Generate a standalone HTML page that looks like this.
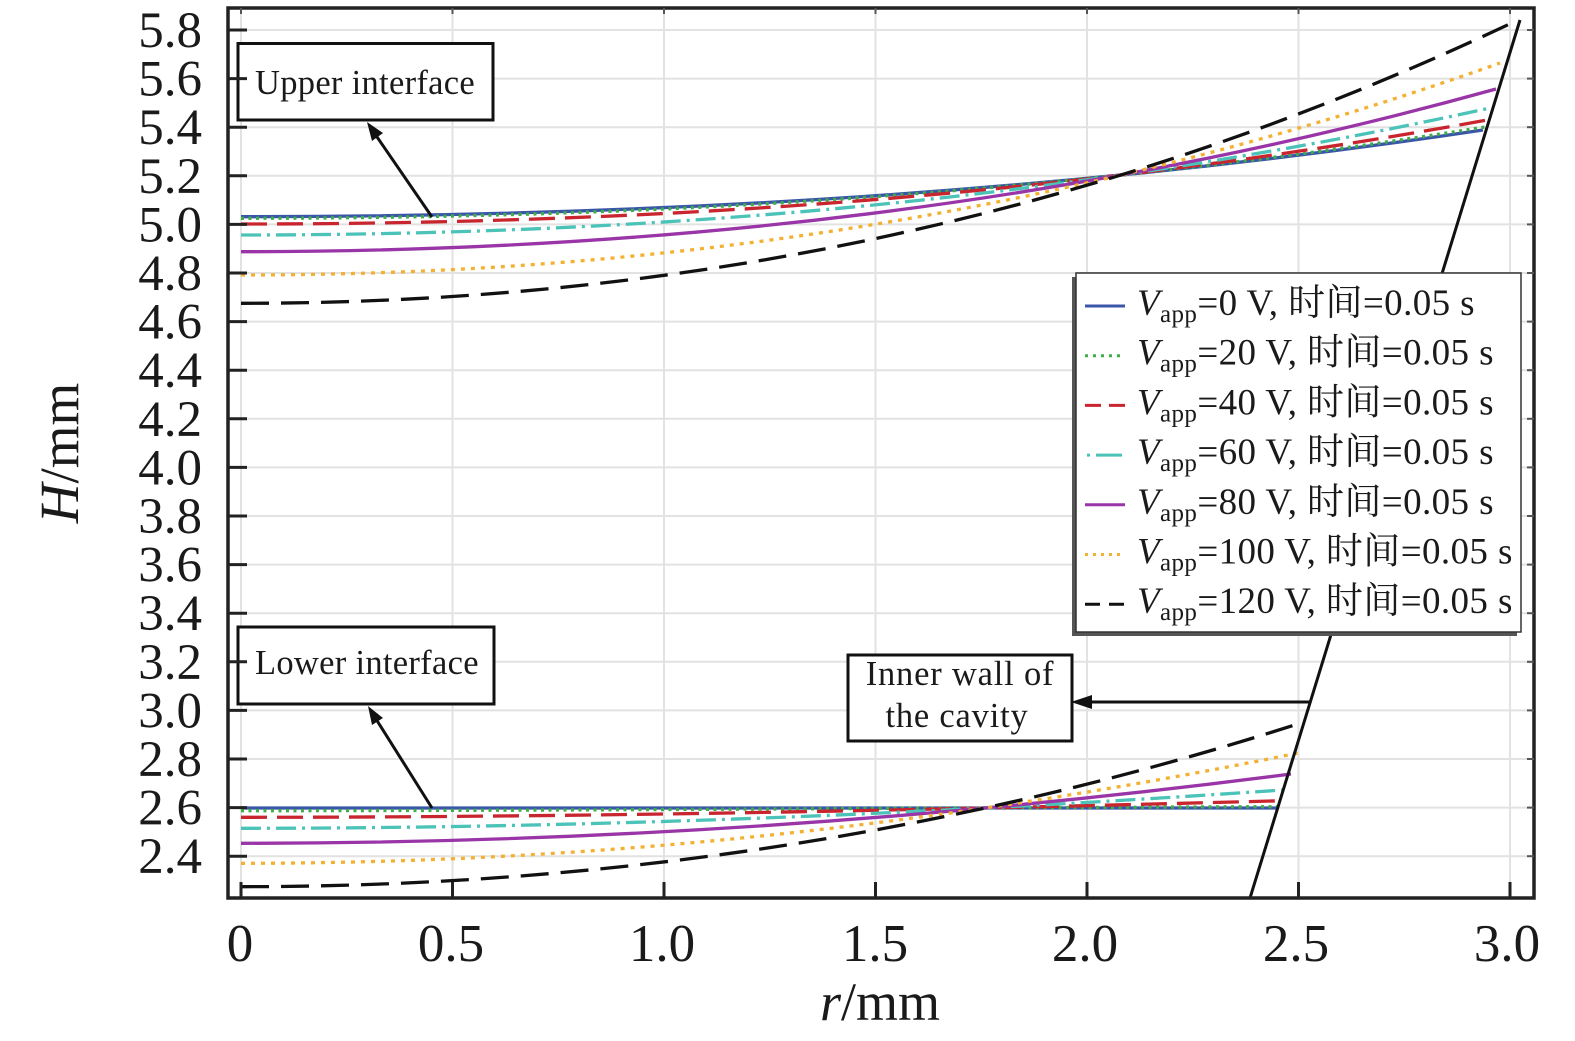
<!DOCTYPE html>
<html><head><meta charset="utf-8">
<style>
html,body{margin:0;padding:0;background:#fff;}
svg{display:block;font-family:"Liberation Serif","Noto Serif CJK SC",serif;}
</style></head>
<body>
<svg width="1575" height="1041" viewBox="0 0 1575 1041" xmlns="http://www.w3.org/2000/svg">
<rect width="1575" height="1041" fill="#fff"/>
<!-- grid -->
<g stroke="#e2e2e2" stroke-width="2">
<line x1="241" y1="8" x2="241" y2="898"/>
<line x1="452.5" y1="8" x2="452.5" y2="898"/>
<line x1="664" y1="8" x2="664" y2="898"/>
<line x1="875.5" y1="8" x2="875.5" y2="898"/>
<line x1="1087" y1="8" x2="1087" y2="898"/>
<line x1="1298.5" y1="8" x2="1298.5" y2="898"/>
<line x1="1510" y1="8" x2="1510" y2="898"/>
<line x1="228" y1="30" x2="1534" y2="30"/>
<line x1="228" y1="78.6" x2="1534" y2="78.6"/>
<line x1="228" y1="127.2" x2="1534" y2="127.2"/>
<line x1="228" y1="175.8" x2="1534" y2="175.8"/>
<line x1="228" y1="224.4" x2="1534" y2="224.4"/>
<line x1="228" y1="273" x2="1534" y2="273"/>
<line x1="228" y1="321.6" x2="1534" y2="321.6"/>
<line x1="228" y1="370.2" x2="1534" y2="370.2"/>
<line x1="228" y1="418.8" x2="1534" y2="418.8"/>
<line x1="228" y1="467.4" x2="1534" y2="467.4"/>
<line x1="228" y1="516" x2="1534" y2="516"/>
<line x1="228" y1="564.6" x2="1534" y2="564.6"/>
<line x1="228" y1="613.2" x2="1534" y2="613.2"/>
<line x1="228" y1="661.8" x2="1534" y2="661.8"/>
<line x1="228" y1="710.4" x2="1534" y2="710.4"/>
<line x1="228" y1="759" x2="1534" y2="759"/>
<line x1="228" y1="807.6" x2="1534" y2="807.6"/>
<line x1="228" y1="856.2" x2="1534" y2="856.2"/>
</g>

<!-- upper curves -->
<g fill="none" stroke-width="3.3">
<path d="M241,216.7 C655,216.7 1069,192 1483,130" stroke="#3a56a8"/>
<path d="M241,218.3 C656,218.3 1070,193.3 1485,127" stroke="#3fae49" stroke-dasharray="3 4.5"/>
<path d="M241,224 C656,224 1072,195.9 1487,120" stroke="#c9252f" stroke-dasharray="26 10"/>
<path d="M241,235 C657,235 1074,199.5 1490,108" stroke="#4cc3b8" stroke-dasharray="20 6 3 6"/>
<path d="M241,251.7 C659,251.7 1078,204.9 1496,89" stroke="#9a35a8"/>
<path d="M241,275 C661,275 1080,212.4 1500,63" stroke="#f2b132" stroke-dasharray="4 6"/>
<path d="M241,303.3 C667,303.3 1092,222.9 1518,20" stroke="#111" stroke-dasharray="28 12"/>
</g>
<!-- lower curves -->
<g fill="none" stroke-width="3.3">
<path d="M241,808 L1278,808" stroke="#3a56a8"/>
<path d="M241,810.7 C587,810.7 934,807.7 1280,806.7" stroke="#3fae49" stroke-dasharray="3 4.5"/>
<path d="M241,817.3 C588,817.3 936,809.8 1283,800.7" stroke="#c9252f" stroke-dasharray="26 10"/>
<path d="M241,828.3 C588,828.3 936,813.7 1283,790" stroke="#4cc3b8" stroke-dasharray="20 6 3 6"/>
<path d="M241,843.3 C591,843.3 941,819.1 1291,774" stroke="#9a35a8"/>
<path d="M241,863.3 C593,863.3 946,825 1298,753" stroke="#f2b132" stroke-dasharray="4 6"/>
<path d="M241,886.7 C595,886.7 950,836.3 1304,722" stroke="#111" stroke-dasharray="28 12"/>
</g>

<!-- slanted wall line -->
<line x1="1520" y1="20" x2="1250" y2="898" stroke="#111" stroke-width="3"/>

<!-- legend -->
<rect x="1072" y="277" width="445" height="359" fill="#555"/>
<rect x="1076" y="273" width="445" height="359" fill="#fff" stroke="#333" stroke-width="1.5"/>
<g stroke-width="3" fill="none">
<line x1="1085" y1="306" x2="1125" y2="306" stroke="#3a56a8"/>
<line x1="1085" y1="355.7" x2="1125" y2="355.7" stroke="#3fae49" stroke-dasharray="3 5"/>
<line x1="1085" y1="405.4" x2="1125" y2="405.4" stroke="#c9252f" stroke-dasharray="16 8"/>
<line x1="1087" y1="455.1" x2="1125" y2="455.1" stroke="#4cc3b8" stroke-dasharray="3 6 26 6"/>
<line x1="1085" y1="504.8" x2="1125" y2="504.8" stroke="#9a35a8"/>
<line x1="1085" y1="554.5" x2="1125" y2="554.5" stroke="#f2b132" stroke-dasharray="3 5"/>
<line x1="1085" y1="604.2" x2="1125" y2="604.2" stroke="#111" stroke-dasharray="15 9"/>
</g>
<g font-size="37" fill="#1a1a1a" letter-spacing="0.4">
<text x="1137" y="315"><tspan font-style="italic">V</tspan><tspan font-size="25" dy="7">app</tspan><tspan dy="-7">=0 V, 时间=0.05 s</tspan></text>
<text x="1137" y="364.7"><tspan font-style="italic">V</tspan><tspan font-size="25" dy="7">app</tspan><tspan dy="-7">=20 V, 时间=0.05 s</tspan></text>
<text x="1137" y="414.4"><tspan font-style="italic">V</tspan><tspan font-size="25" dy="7">app</tspan><tspan dy="-7">=40 V, 时间=0.05 s</tspan></text>
<text x="1137" y="464.1"><tspan font-style="italic">V</tspan><tspan font-size="25" dy="7">app</tspan><tspan dy="-7">=60 V, 时间=0.05 s</tspan></text>
<text x="1137" y="513.8"><tspan font-style="italic">V</tspan><tspan font-size="25" dy="7">app</tspan><tspan dy="-7">=80 V, 时间=0.05 s</tspan></text>
<text x="1137" y="563.5"><tspan font-style="italic">V</tspan><tspan font-size="25" dy="7">app</tspan><tspan dy="-7">=100 V, 时间=0.05 s</tspan></text>
<text x="1137" y="613.2"><tspan font-style="italic">V</tspan><tspan font-size="25" dy="7">app</tspan><tspan dy="-7">=120 V, 时间=0.05 s</tspan></text>
</g>

<!-- annotation boxes -->
<g stroke="#111" stroke-width="3" fill="#fff">
<rect x="238" y="43.5" width="255" height="76.5"/>
<rect x="238" y="627" width="256" height="77"/>
<rect x="848" y="655" width="224" height="86"/>
</g>
<g font-size="34.5" fill="#1a1a1a" letter-spacing="0.3">
<text x="255" y="94">Upper interface</text>
<text x="255" y="674">Lower interface</text>
<text x="960" y="685" text-anchor="middle" letter-spacing="0.8">Inner wall of</text>
<text x="957" y="727" text-anchor="middle" letter-spacing="0.8">the cavity</text>
</g>
<!-- arrows -->
<g stroke="#111" stroke-width="3">
<line x1="432" y1="217" x2="375" y2="134"/>
<line x1="432" y1="808" x2="376" y2="719"/>
<line x1="1310" y1="702" x2="1088" y2="702"/>
</g>
<g fill="#111">
<polygon points="367,122 383,133 372,141"/>
<polygon points="368,706 383,718 372,725"/>
<polygon points="1071,702 1092,695 1092,709"/>
</g>

<!-- frame -->
<rect x="228" y="8" width="1306" height="890" fill="none" stroke="#222" stroke-width="3.5"/>
<!-- ticks -->
<g stroke="#222" stroke-width="3">
<line x1="228" y1="30" x2="247" y2="30"/>
<line x1="228" y1="78.6" x2="247" y2="78.6"/>
<line x1="228" y1="127.2" x2="247" y2="127.2"/>
<line x1="228" y1="175.8" x2="247" y2="175.8"/>
<line x1="228" y1="224.4" x2="247" y2="224.4"/>
<line x1="228" y1="273" x2="247" y2="273"/>
<line x1="228" y1="321.6" x2="247" y2="321.6"/>
<line x1="228" y1="370.2" x2="247" y2="370.2"/>
<line x1="228" y1="418.8" x2="247" y2="418.8"/>
<line x1="228" y1="467.4" x2="247" y2="467.4"/>
<line x1="228" y1="516" x2="247" y2="516"/>
<line x1="228" y1="564.6" x2="247" y2="564.6"/>
<line x1="228" y1="613.2" x2="247" y2="613.2"/>
<line x1="228" y1="661.8" x2="247" y2="661.8"/>
<line x1="228" y1="710.4" x2="247" y2="710.4"/>
<line x1="228" y1="759" x2="247" y2="759"/>
<line x1="228" y1="807.6" x2="247" y2="807.6"/>
<line x1="228" y1="856.2" x2="247" y2="856.2"/>
<line x1="241" y1="898" x2="241" y2="882"/>
<line x1="452.5" y1="898" x2="452.5" y2="882"/>
<line x1="664" y1="898" x2="664" y2="882"/>
<line x1="875.5" y1="898" x2="875.5" y2="882"/>
<line x1="1087" y1="898" x2="1087" y2="882"/>
<line x1="1298.5" y1="898" x2="1298.5" y2="882"/>
<line x1="1510" y1="898" x2="1510" y2="882"/>
</g>
<g stroke="#555" stroke-width="2">
<line x1="241" y1="8" x2="241" y2="14"/>
<line x1="452.5" y1="8" x2="452.5" y2="14"/>
<line x1="664" y1="8" x2="664" y2="14"/>
<line x1="875.5" y1="8" x2="875.5" y2="14"/>
<line x1="1087" y1="8" x2="1087" y2="14"/>
<line x1="1298.5" y1="8" x2="1298.5" y2="14"/>
<line x1="1510" y1="8" x2="1510" y2="14"/>
<line x1="1527" y1="30" x2="1534" y2="30"/>
<line x1="1527" y1="78.6" x2="1534" y2="78.6"/>
<line x1="1527" y1="127.2" x2="1534" y2="127.2"/>
<line x1="1527" y1="175.8" x2="1534" y2="175.8"/>
<line x1="1527" y1="224.4" x2="1534" y2="224.4"/>
<line x1="1527" y1="273" x2="1534" y2="273"/>
<line x1="1527" y1="321.6" x2="1534" y2="321.6"/>
<line x1="1527" y1="370.2" x2="1534" y2="370.2"/>
<line x1="1527" y1="418.8" x2="1534" y2="418.8"/>
<line x1="1527" y1="467.4" x2="1534" y2="467.4"/>
<line x1="1527" y1="516" x2="1534" y2="516"/>
<line x1="1527" y1="564.6" x2="1534" y2="564.6"/>
<line x1="1527" y1="613.2" x2="1534" y2="613.2"/>
<line x1="1527" y1="661.8" x2="1534" y2="661.8"/>
<line x1="1527" y1="710.4" x2="1534" y2="710.4"/>
<line x1="1527" y1="759" x2="1534" y2="759"/>
<line x1="1527" y1="807.6" x2="1534" y2="807.6"/>
<line x1="1527" y1="856.2" x2="1534" y2="856.2"/>
</g>

<!-- y tick labels -->
<g font-size="51" fill="#1a1a1a" text-anchor="end">
<text x="202" y="47">5.8</text>
<text x="202" y="95.6">5.6</text>
<text x="202" y="144.2">5.4</text>
<text x="202" y="192.8">5.2</text>
<text x="202" y="241.4">5.0</text>
<text x="202" y="290">4.8</text>
<text x="202" y="338.6">4.6</text>
<text x="202" y="387.2">4.4</text>
<text x="202" y="435.8">4.2</text>
<text x="202" y="484.4">4.0</text>
<text x="202" y="533">3.8</text>
<text x="202" y="581.6">3.6</text>
<text x="202" y="630.2">3.4</text>
<text x="202" y="678.8">3.2</text>
<text x="202" y="727.4">3.0</text>
<text x="202" y="776">2.8</text>
<text x="202" y="824.6">2.6</text>
<text x="202" y="873.2">2.4</text>
</g>
<!-- x tick labels -->
<g font-size="53" fill="#1a1a1a" text-anchor="middle">
<text x="240" y="961">0</text>
<text x="451" y="961">0.5</text>
<text x="662" y="961">1.0</text>
<text x="875" y="961">1.5</text>
<text x="1085" y="961">2.0</text>
<text x="1296" y="961">2.5</text>
<text x="1507" y="961">3.0</text>
</g>
<!-- axis titles -->
<text x="820" y="1020" font-size="54" fill="#1a1a1a"><tspan font-style="italic">r</tspan>/mm</text>
<text transform="translate(78,453) rotate(-90)" text-anchor="middle" font-size="55" fill="#1a1a1a"><tspan font-style="italic">H</tspan>/mm</text>
</svg>
</body></html>
